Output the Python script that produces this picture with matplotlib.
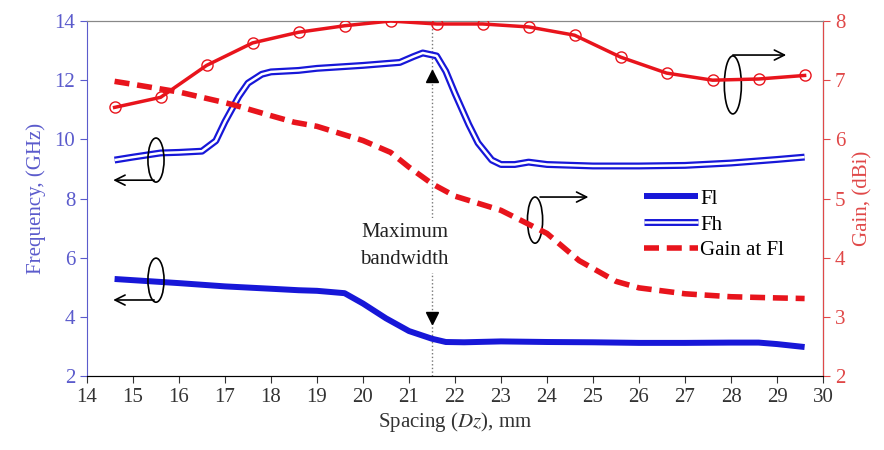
import numpy as np
import matplotlib.pyplot as plt
from matplotlib.patches import Ellipse

plt.rcParams['font.family'] = ['Liberation Serif', 'DejaVu Serif']
plt.rcParams['mathtext.fontset'] = 'stix'

# Fl (low band edge), GHz
fl_x = [14.6, 15.0, 16.0, 17.0, 18.0, 18.6, 19.0, 19.6, 20.0, 20.5, 21.0, 21.5, 21.8, 22.2, 23.0, 24.0, 25.0, 26.0, 27.0, 28.0, 28.6, 29.0, 29.6]
fl_y = [5.28, 5.24, 5.14, 5.03, 4.95, 4.9, 4.88, 4.8, 4.45, 3.95, 3.52, 3.26, 3.15, 3.14, 3.17, 3.15, 3.14, 3.12, 3.12, 3.13, 3.13, 3.08, 2.98]

# Fh (high band edge), GHz
fh_x = [14.6, 15.0, 15.6, 16.0, 16.5, 16.8, 17.0, 17.3, 17.5, 17.8, 18.0, 18.6, 19.0, 20.0, 20.8, 21.1, 21.3, 21.6, 21.8, 22.0, 22.3, 22.5, 22.8, 23.0, 23.3, 23.6, 24.0, 25.0, 26.0, 27.0, 28.0, 29.0, 29.6]
fh_y = [9.3, 9.4, 9.54, 9.56, 9.6, 9.95, 10.6, 11.45, 11.9, 12.2, 12.28, 12.33, 12.4, 12.5, 12.6, 12.8, 12.92, 12.82, 12.3, 11.55, 10.5, 9.88, 9.3, 9.15, 9.15, 9.23, 9.15, 9.1, 9.1, 9.12, 9.2, 9.32, 9.4]

# Gain at Fl, dBi
gl_x = [14.6, 15.0, 16.0, 17.0, 17.2, 18.0, 18.5, 19.0, 20.0, 20.6, 21.0, 21.5, 22.0, 23.0, 24.0, 24.7, 25.5, 26.0, 27.0, 28.0, 29.0, 29.6]
gl_y = [6.98, 6.93, 6.8, 6.62, 6.58, 6.4, 6.29, 6.22, 5.98, 5.78, 5.53, 5.25, 5.04, 4.8, 4.41, 3.95, 3.6, 3.49, 3.39, 3.34, 3.32, 3.31]

# Gain at Fh (marked points), dBi
gh_x = [14.6, 15.6, 16.6, 17.6, 18.6, 19.6, 20.6, 21.6, 22.6, 23.6, 24.6, 25.6, 26.6, 27.6, 28.6, 29.6]
gh_y = [6.54, 6.71, 7.25, 7.63, 7.81, 7.92, 8.0, 7.95, 7.95, 7.9, 7.76, 7.39, 7.12, 7.0, 7.02, 7.08]

max_bw_x = 21.5

blue = '#1717d8'
red = '#e8141c'
lblue = '#5b5bcc'
lred = '#e04848'

fig = plt.figure(figsize=(8.84, 4.5), dpi=100)
ax = fig.add_axes([0.0984, 0.1644, 0.8326, 0.7889])
ax2 = ax.twinx()

ax.set_xlim(14, 30)
ax.set_ylim(2, 14)
ax2.set_ylim(2, 8)
ax.set_xticks(range(14, 31))
ax.set_yticks(range(2, 15, 2))
ax2.set_yticks(range(2, 9))

# lines on left axis
l_fl, = ax.plot(fl_x, fl_y, color=blue, lw=4.3, solid_capstyle='butt', zorder=3)
fh_out, = ax.plot(fh_x, fh_y, color=blue, lw=5, solid_capstyle='butt', zorder=3)
fh_in, = ax.plot(fh_x, fh_y, color='white', lw=1.8, solid_capstyle='butt', zorder=3)

# lines on right axis
l_gl, = ax2.plot(gl_x, gl_y, color=red, lw=4, ls=(0, (2.7, 1.4)), zorder=3)
ax2.plot(gh_x, gh_y, color=red, lw=2.5, marker='o', ms=8, mfc='none', mec=red, mew=1, zorder=3)

# maximum bandwidth marker
ax.plot([max_bw_x, max_bw_x], [2, 14], color='#777777', lw=1, ls=':', zorder=1)
ax.plot(max_bw_x, 12.15, marker='^', color='black', ms=9, zorder=4)
ax.plot(max_bw_x, 3.95, marker='v', color='black', ms=9, zorder=4)
ax.text(20.9, 6.4, 'Maximum\nbandwidth', ha='center', va='center', fontsize=15,
        linespacing=1.6, color='#222222',
        bbox=dict(facecolor='white', edgecolor='none', pad=3), zorder=5)

# ellipses + arrows showing which axis each curve uses
def marker_ellipse(a, cx, cy, w, h, x0, y0, x1):
    a.add_patch(Ellipse((cx, cy), w, h, fill=False, ec='black', lw=1.2, zorder=6))
    a.annotate('', xy=(x1, y0), xytext=(x0, y0),
               arrowprops=dict(arrowstyle='->', color='black', lw=1.2,
                               shrinkA=0, shrinkB=0, mutation_scale=18), zorder=6)

marker_ellipse(ax, 15.5, 9.3, 0.35, 1.49, 15.46, 8.62, 14.57)
marker_ellipse(ax, 15.5, 5.24, 0.35, 1.49, 15.46, 4.57, 14.57)
marker_ellipse(ax, 28.04, 11.84, 0.37, 1.96, 28.04, 12.85, 29.2)
marker_ellipse(ax, 23.74, 7.27, 0.33, 1.56, 23.85, 8.05, 24.9)

# legend
leg = ax.legend([l_fl, (fh_out, fh_in), l_gl], ['Fl', 'Fh', 'Gain at Fl'],
                loc='upper left', bbox_to_anchor=(0.745, 0.55), frameon=False,
                fontsize=15, handlelength=2.6, handletextpad=0.1,
                labelspacing=0.3, borderaxespad=0)
leg.set_zorder(7)

# spines and ticks
ax.spines['top'].set_color('#888888')
ax.spines['left'].set_color(lblue)
ax.spines['bottom'].set_color('#333333')
ax2.spines['top'].set_color('#888888')
ax2.spines['right'].set_color(lred)
ax2.spines['left'].set_visible(False)
ax.tick_params(axis='x', colors='#333333', labelsize=15, length=5)
ax.tick_params(axis='y', colors=lblue, labelsize=15, length=5)
ax2.tick_params(axis='y', colors=lred, labelsize=15, length=5)

ax.set_ylabel('Frequency, (GHz)', color=lblue, fontsize=15, labelpad=6)
ax2.set_ylabel('Gain, (dBi)', color=lred, fontsize=15, labelpad=6)
ax.set_xlabel(r'Spacing ($\mathit{Dz}$), mm', color='#333333', fontsize=15, labelpad=2)

fig.savefig('out.png', dpi=100)
